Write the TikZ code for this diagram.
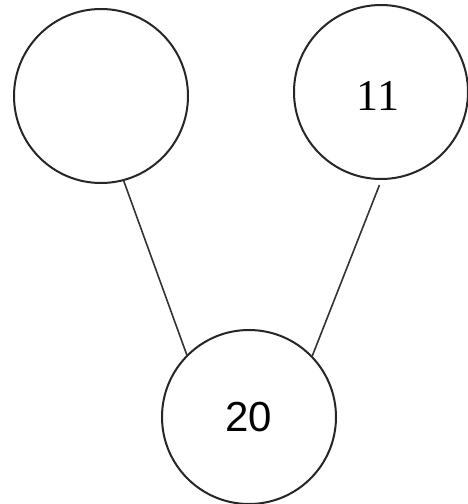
\documentclass[tikz,border=0pt]{standalone}
\usepackage{fontspec}
\setmainfont{Liberation Serif}
\newfontfamily\digitsans{Liberation Sans}
\begin{document}
\begin{tikzpicture}[x=1pt,y=-1pt,
  ball/.style={draw=black!85,circle,line width=2pt,minimum size=174pt,inner sep=0pt},
  link/.style={draw=black!80,line width=1.6pt}]
\useasboundingbox (0,0) rectangle (468,504);
\node[ball] (L) at (101,96) {};
\node[ball] (R) at (381,92) {};
\node[font=\fontsize{44}{44}\selectfont] (Rt) at (378,96) {11};
\node[ball,font=\digitsans\fontsize{42}{42}\selectfont] (B) at (249,417) {20};
\coordinate (Rs) at ([yshift=-5pt]R.-91);
\draw[link] (L.-75) -- (B.135);
\draw[link] (Rs) -- (B.44);
\end{tikzpicture}
\end{document}
